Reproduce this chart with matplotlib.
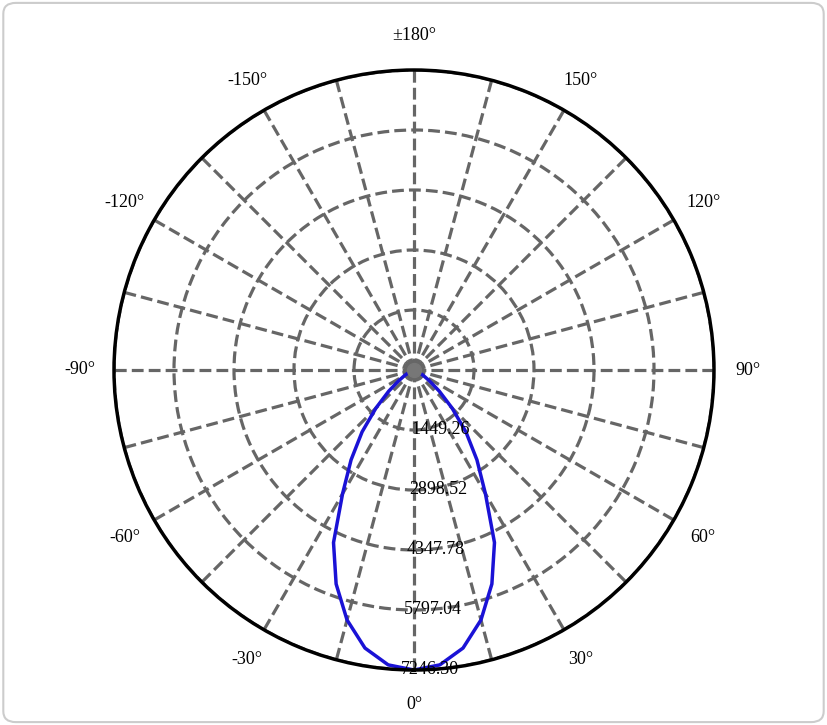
import numpy as np
import matplotlib.pyplot as plt
from matplotlib.patches import FancyBboxPatch

# intensity curve (cd) vs angle from nadir (deg), symmetric
angles_deg = [0, 5, 10, 15, 20, 25, 30, 35, 40, 45, 50, 55, 60, 70, 80, 90]
intensity = [7246.3, 7150, 6820, 6250, 5500, 4600, 3450, 2650, 1950, 1300, 800, 450, 250, 80, 20, 0]
ring_values = [1449.26, 2898.52, 4347.78, 5797.04, 7246.30]
rmax = 7246.30

ang = np.array([-a for a in angles_deg[::-1]] + angles_deg[1:], dtype=float)
val = np.array(intensity[::-1] + intensity[1:])

fig = plt.figure(figsize=(8.27, 7.25), dpi=100)
fig.patch.set_facecolor('white')
frame = FancyBboxPatch((0.004, 0.004), 0.992, 0.992, boxstyle="round,pad=0,rounding_size=0.015",
                       transform=fig.transFigure, fc='white', ec='#cccccc', lw=1.5, zorder=-10)
fig.patches.append(frame)

ax = fig.add_axes([114 / 827, 55 / 725, 600 / 827, 600 / 725], projection='polar')
ax.set_theta_zero_location('S')
ax.set_theta_direction(1)
ax.set_ylim(0, rmax)

ticks = np.arange(0, 360, 15)
labels = []
for t in ticks:
    if t % 30:
        labels.append('')
    elif t == 180:
        labels.append('±180°')
    elif t > 180:
        labels.append(f'-{360 - t}°')
    else:
        labels.append(f'{t}°')
ax.set_xticks(np.deg2rad(ticks))
ax.set_xticklabels(labels, fontsize=13, family='Liberation Serif')
ax.tick_params(axis='x', pad=14)
ax.set_yticks(ring_values)
ax.set_yticklabels([])
ax.grid(True, color='#666666', linestyle='--', linewidth=2.3)
ax.spines['polar'].set_linewidth(2.5)
ax.spines['polar'].set_color('black')

for v in ring_values:
    ax.text(np.deg2rad(-2.5), v, f'{v:.2f}', fontsize=13, family='Liberation Serif',
            ha='left', va='center', color='black')

ax.plot(np.deg2rad(ang), val, color='#1a12d6', linewidth=2.5)
ax.plot([0], [0], 'o', color='#777777', markersize=10)

fig.savefig('out.png', dpi=100)
